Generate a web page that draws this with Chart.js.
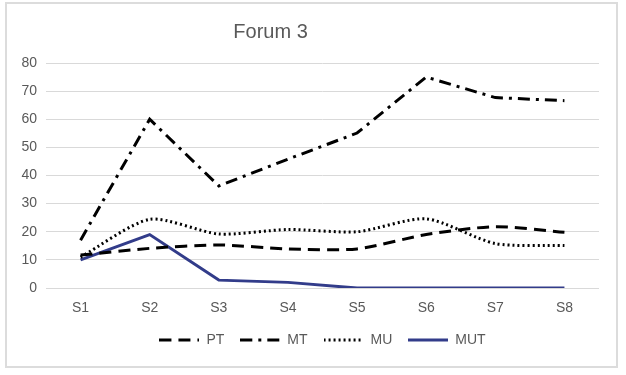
<!DOCTYPE html>
<html>
<head>
<meta charset="utf-8">
<script src="https://cdn.jsdelivr.net/npm/chart.js@4"></script>
<style>
  body { margin: 0; background: #fff; }
  #wrap { position: relative; width: 626px; height: 375px; }
  #frame { position: absolute; left: 5px; top: 2px; width: 609px; height: 362px; border: 2px solid #dcdcdc; pointer-events: none; }
</style>
</head>
<body>
<div id="wrap">
  <canvas id="chart3" width="626" height="375"></canvas>
  <div id="frame"></div>
</div>
<script>
  const sessions = ["S1", "S2", "S3", "S4", "S5", "S6", "S7", "S8"];

  const ptValues = [11.7, 14.1, 15.3, 13.9, 13.9, 19, 21.8, 19.8];
  const mtValues = [17, 60, 36.3, 45.8, 55.1, 75, 67.7, 66.6];
  const muValues = [11, 24.4, 19.2, 20.8, 20, 24.6, 15.8, 15.1];
  const mutValues = [10, 19, 2.8, 2, 0, 0, 0, 0];

  const chartTitle = "Forum 3";

  const grey = "#595959";
  const font = "'Liberation Sans', Arial, sans-serif";

  // small canvas used as legend symbol so the dash pattern shows
  function legendLine(color, dash) {
    const c = document.createElement("canvas");
    c.width = 40;
    c.height = 6;
    const g = c.getContext("2d");
    g.strokeStyle = color;
    g.lineWidth = 3;
    g.setLineDash(dash);
    g.beginPath();
    g.moveTo(0, 3);
    g.lineTo(40, 3);
    g.stroke();
    return c;
  }

  // excel-ish title, sits a bit left of centre
  const titlePlugin = {
    id: "forumTitle",
    afterDraw(chart) {
      const ctx = chart.ctx;
      const area = chart.chartArea;
      ctx.save();
      ctx.font = "20px " + font;
      ctx.fillStyle = grey;
      ctx.textAlign = "center";
      ctx.textBaseline = "middle";
      ctx.fillText(chartTitle, area.left + area.width * 0.406, 32);
      ctx.restore();
    }
  };

  const ptDash = [12, 7];
  const mtDash = [12, 6, 3, 6];
  const muDash = [2, 3];

  const ctx = document.getElementById("chart3").getContext("2d");

  const myChart = new Chart(ctx, {
    type: "line",
    data: {
      labels: sessions,
      datasets: [
        {
          label: "PT",
          data: ptValues,
          borderColor: "#000",
          borderWidth: 3,
          borderDash: ptDash,
          tension: 0.25,
          pointRadius: 0,
          pointStyle: legendLine("#000", ptDash)
        },
        {
          label: "MT",
          data: mtValues,
          borderColor: "#000",
          borderWidth: 3,
          borderDash: mtDash,
          tension: 0,
          pointRadius: 0,
          pointStyle: legendLine("#000", mtDash)
        },
        {
          label: "MU",
          data: muValues,
          borderColor: "#000",
          borderWidth: 3,
          borderDash: muDash,
          tension: 0.25,
          pointRadius: 0,
          pointStyle: legendLine("#000", muDash)
        },
        {
          label: "MUT",
          data: mutValues,
          borderColor: "#323c8a",
          borderWidth: 3,
          tension: 0,
          pointRadius: 0,
          pointStyle: legendLine("#323c8a", [])
        }
      ]
    },
    options: {
      responsive: false,
      animation: false,
      layout: {
        padding: { top: 63, right: 27, bottom: 18, left: 0 }
      },
      plugins: {
        title: { display: false },
        tooltip: { enabled: false },
        legend: {
          position: "bottom",
          fullSize: false,
          labels: {
            usePointStyle: true,
            pointStyleWidth: 40,
            padding: 16,
            color: grey,
            font: { family: font, size: 14 }
          }
        }
      },
      scales: {
        x: {
          offset: true,
          grid: { display: false, drawTicks: false },
          border: { display: false },
          ticks: { color: grey, padding: 12, font: { family: font, size: 14 } },
          afterFit(scale) { scale.height = 29; }
        },
        y: {
          min: 0,
          max: 80,
          grid: { color: "#d9d9d9", drawTicks: false },
          border: { display: false },
          ticks: { stepSize: 10, color: grey, padding: 9, font: { family: font, size: 14 } },
          afterFit(scale) { scale.width = 46; }
        }
      }
    },
    plugins: [titlePlugin]
  });
</script>
</body>
</html>
